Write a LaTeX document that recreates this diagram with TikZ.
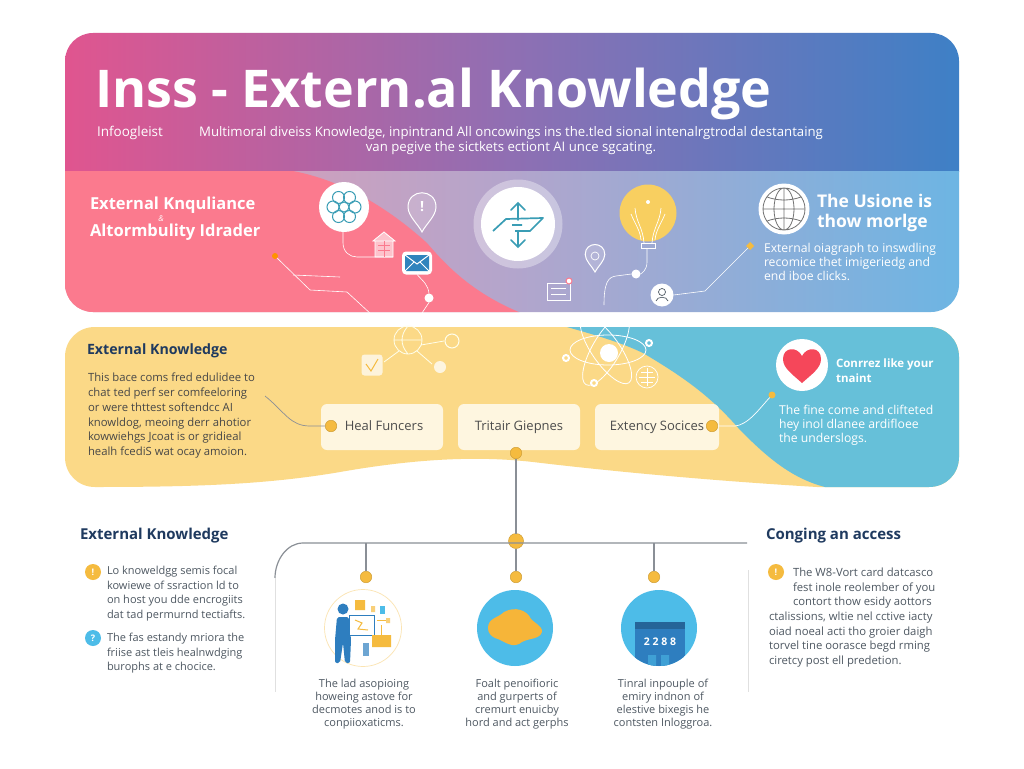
\documentclass[tikz,border=0pt]{standalone}
\usepackage{fontspec}
\setmainfont{Open Sans}
\usetikzlibrary{calc,shapes.geometric}
\definecolor{hpink}{HTML}{E0558F}
\definecolor{hmid}{HTML}{8F6FB3}
\definecolor{hblue}{HTML}{3E80C6}
\definecolor{bandl}{HTML}{E99BAE}
\definecolor{bandm}{HTML}{B3A5CC}
\definecolor{bandr}{HTML}{6DB5E3}
\definecolor{blobpink}{HTML}{FB7A8E}
\definecolor{panelyel}{HTML}{FBD987}
\definecolor{panelblue}{HTML}{66C0D9}
\definecolor{boxcream}{HTML}{FEF6E0}
\definecolor{gold}{HTML}{F5BB3F}
\definecolor{bulbyel}{HTML}{F8CF60}
\definecolor{heartred}{HTML}{F5475A}
\definecolor{navy}{HTML}{1F3A5F}
\definecolor{teal}{HTML}{3A9DB5}
\definecolor{skyblue}{HTML}{4DBCE8}
\definecolor{deepblue}{HTML}{2E7EBF}
\definecolor{bodygrey}{HTML}{4E5862}
\definecolor{wiregrey}{HTML}{8A8F96}
\newcommand{\fsz}[2]{\fontsize{#1}{#2}\selectfont}
\tikzset{
  pinmark/.pic={
    \draw[white,line width=1pt,fill=white,fill opacity=.15] (0,20) .. controls (-4,12) and (-14,4) .. (-14,-5)
      .. controls (-14,-24) and (14,-24) .. (14,-5) .. controls (14,4) and (4,12) .. (0,20) -- cycle;
  }
}
\begin{document}
\begin{tikzpicture}[x=1pt,y=-1pt,
  every node/.style={inner sep=0pt,outer sep=0pt},
  whitetext/.style={text=white,align=left,anchor=west},
  bandtext/.style={whitetext,font=\fsz{12.2}{14}},
  darktext/.style={text=bodygrey,align=left,anchor=north west,font=\fsz{11}{14.7}},
  caption/.style={text=bodygrey,align=center,anchor=north,font=\fsz{11}{13}},
  heading/.style={text=navy,anchor=west,font=\fsz{15}{17}\bfseries},
  cardbox/.style={fill=boxcream,rounded corners=6,minimum width=122,minimum height=46,text=black!70,
    text height=10,text depth=3,font=\fsz{13}{15}},
  golddot/.style={circle,fill=gold,draw=gold!85!black,line width=.5pt,minimum size=11.5},
  whitedot/.style={circle,fill=white,minimum size=9},
  wire/.style={white,line width=.6pt},
  stem/.style={wiregrey,line width=1.2pt},
  bullet/.style={circle,minimum size=16,text=white,font=\fsz{9}{9}\bfseries}]
\useasboundingbox (0,0) rectangle (1024,768);
\fill[white] (0,0) rectangle (1024,768);

\begin{scope}
\clip[rounded corners=28] (65,33) rectangle (959,312);
\shade[left color=hpink,right color=hblue,middle color=hmid] (65,33) rectangle (959,171);
\shade[left color=bandl,right color=bandr,middle color=bandm] (65,171) rectangle (959,312);
\fill[blobpink] (60,171) -- (293,171) .. controls (340,180) and (385,205) .. (427,243)
  .. controls (450,270) and (480,300) .. (540,320) -- (60,320) -- cycle;
\end{scope}

\fill[panelyel] (95,327) -- (929,327) .. controls (946,327) and (959,340) .. (959,357) -- (959,457)
  .. controls (959,474) and (946,487) .. (929,487) -- (817,487) .. controls (700,480) and (600,470) .. (533,462)
  .. controls (480,456) and (420,458) .. (340,472) .. controls (270,484) and (200,487) .. (95,487)
  .. controls (78,487) and (65,474) .. (65,457) -- (65,357) .. controls (65,340) and (78,327) .. (95,327) -- cycle;
\fill[panelblue] (567,327) -- (929,327) .. controls (946,327) and (959,340) .. (959,357) -- (959,457)
  .. controls (959,474) and (946,487) .. (929,487) -- (825,487) .. controls (790,478) and (765,455) .. (740,430)
  .. controls (710,395) and (680,375) .. (643,353) .. controls (620,342) and (595,335) .. (567,327) -- cycle;

\node[whitetext,font=\fsz{52}{52}\bfseries] (title) at (95,94) {Inss - Extern.al Knowledge};
\node[whitetext,font=\fsz{13.5}{15}] (tag) at (97,133) {Infoogleist};
\node[text=white,align=center,font=\fsz{13.2}{15}] (subtitle) at (511,141)
  {Multimoral diveiss Knowledge, inpintrand All oncowings ins the.tled sional intenalrgtrodal destantaing\\
   van pegive the sictkets ectiont AI unce sgcating.};

\node[whitetext,font=\fsz{16.5}{27}\bfseries] (bandhead) at (90,219) {External Knquliance\\Altormbulity Idrader};
\node[text=white,font=\fsz{8}{8}\itshape] (amp) at (161,219) {\&};

\coordinate (wirestart) at (343,232);
\coordinate (buildfoot) at (393,257);
\node[circle,fill=white,minimum size=50] (flower) at (344,207) {};
\foreach \a in {0,60,...,300} \draw[teal,line width=1pt] (344,207) ++(\a:11) circle (6);
\draw[teal,line width=1pt] (344,207) circle (5);
\draw[wire] (wirestart) -- (343,243) .. controls (343,252) and (350,257) .. (357,257) -- (buildfoot);
\path (422,212) pic {pinmark};
\node[text=white,font=\fsz{14}{14}\bfseries] (pinbang) at (422,207) {!};
\draw[white,line width=.8pt,fill=white,fill opacity=.55] (375,257) rectangle (393,241) (373,241) -- (384,232) -- (395,241) -- cycle;
\draw[blobpink,line width=.8pt] (378,245) -- (390,245) (378,250) -- (390,250) (384,241) -- (384,257);
\node[fill=white,rounded corners=4,minimum width=30,minimum height=23] (envelope) at (417,263) {};
\fill[deepblue!80!teal,rounded corners=1] (405,255) rectangle (429,271);
\draw[white,line width=1pt] (405,255) -- (417,264) -- (429,255) (405,271) -- (414,262) (429,271) -- (420,262);
\node[whitedot] (plaindot) at (429,298) {};
\draw[wire] (envelope.south) .. controls (424,282) and (428,285) .. (plaindot.north);
\node[circle,fill=orange!85!yellow,minimum size=6] (orangetip) at (275,256) {};
\coordinate (pinkwire) at (310,290);
\coordinate (branchend) at (340,277);
\coordinate (netin) at (400,325);
\draw[wire] (orangetip) -- (pinkwire) -- (347,292) -- (372,315) -- (netin);
\draw[wire] (293,275) -- (branchend);
\draw[wire] (plaindot.south) -- (420,316) -- (412,325);

\node[circle,fill=white,fill opacity=.35,minimum size=89] (halo) at (518,224) {};
\node[circle,fill=white,minimum size=74] (hub) at (518,224) {};
\draw[teal,line width=1.7pt,line join=round] (493,231) -- (506,219) -- (543,218) -- (530,231) -- (515,231) (512,225) -- (522,225);
\draw[teal,line width=1.7pt,line cap=round] (518,220) -- (518,203) (511,210) -- (518,203) -- (525,210);
\draw[teal,line width=1.7pt,line cap=round] (518,231) -- (518,247) (511,240) -- (518,247) -- (525,240);

\node[circle,fill=bulbyel,minimum size=57] (bulb) at (648,213) {};
\draw[white,line width=.7pt] (635,208) .. controls (636,222) and (643,228) .. (644,243)
  (661,208) .. controls (660,222) and (653,228) .. (652,243)
  (631,214) .. controls (636,226) and (640,230) .. (641,240)
  (665,214) .. controls (660,226) and (656,230) .. (655,240);
\fill[white] (648,202) circle (2);
\draw[white,line width=.7pt] (641,243) rectangle (655,248);
\node[whitedot] (busdot) at (636,274) {};
\coordinate (bulbfoot) at (647,248);
\coordinate (atomin) at (604,305);
\draw[wire] (bulbfoot) -- (647,262) .. controls (647,270) and (642,273) .. (busdot.east);
\draw[wire] (busdot.west) -- (616,276) .. controls (608,277) and (604,283) .. (atomin);
\path (595,258) pic[scale=.7] {pinmark};
\draw[white,line width=.7pt] (595,256) circle (4);
\draw[white,line width=.9pt] (547,283) rectangle (570,300) (551,288) -- (566,288) (551,294) -- (566,294);
\node[circle,draw=blobpink,fill=white,line width=1pt,minimum size=6] (imgbadge) at (569,281) {};
\node[circle,fill=white,minimum size=23] (personchip) at (662,295) {};
\draw[bodygrey,line width=.7pt] (662,292) circle (3.5) (656,301) .. controls (657,296) and (667,296) .. (668,301);
\node[diamond,fill=gold,minimum size=8] (goldtip) at (750,246) {};
\draw[wire] (personchip.east) -- (705,291) -- (goldtip);

\node[circle,fill=white,minimum size=51] (globe) at (784,209) {};
\draw[black!55,line width=.8pt] (784,209) circle (21) (784,209) ellipse (10 and 21) (763,209) -- (805,209) (784,188) -- (784,230)
  (767,197) .. controls (778,201) and (790,201) .. (801,197) (767,221) .. controls (778,217) and (790,217) .. (801,221);
\node[whitetext,font=\fsz{17.5}{20.5}\bfseries\color{white!92!blue}] (globehead) at (817,213) {The Usione is\\thow morlge};
\node[bandtext] (globetext) at (764,262) {External oiagraph to inswdling\\recomice thet imigeriedg and\\end iboe clicks.};

\node[heading,font=\fsz{14.2}{16}\bfseries] (yelhead) at (87,351) {External Knowledge};
\node[darktext,font=\fsz{11.3}{14.8},text=black!72] (yelbody) at (88,373)
  {This bace coms fred edulidee to\\chat ted perf ser comfeeloring\\or were thttest softendcc AI\\knowldog, meoing derr ahotior\\kowwiehgs Jcoat is or gridieal\\healh fcediS wat ocay amoion.};

\node[cardbox] (healbox) at (382,427) {\hspace*{4pt}Heal Funcers};
\node[cardbox] (tritbox) at (519,427) {Tritair Giepnes};
\node[cardbox,minimum width=124] (extbox) at (657,427) {Extency Socices};
\node[golddot] (healdot) at (331,426) {};
\node[golddot] (tritdot) at (516,453) {};
\node[golddot] (extdot) at (712,426) {};
\coordinate (yelfree) at (265,396);
\draw[wiregrey,line width=.7pt] (yelfree) .. controls (285,412) and (290,426) .. (310,426) -- (healdot);

\draw[white!92!yellow,line width=.8pt] (408,340) circle (14) (408,326) .. controls (400,335) and (400,345) .. (408,354) (394,340) -- (422,340) (421,345) -- (444,341) (399,351) -- (384,362) (417,351) -- (432,364);
\draw[white!92!yellow,line width=1pt] (452,341) circle (7);
\node[circle,fill=white,opacity=.75,minimum size=12] (netdot) at (440,367) {};
\node[fill=white,opacity=.7,rounded corners=3,minimum size=21] (checkchip) at (372,365) {};
\draw[gold,line width=1pt] (366,364) -- (371,371) -- (378,359);

\draw[white,line width=.8pt] (608,350) ellipse (38 and 15);
\draw[white,line width=.8pt,rotate around={-55:(606,350)}] (606,350) ellipse (40 and 14);
\draw[white,line width=.8pt,rotate around={60:(606,350)}] (606,350) ellipse (40 and 14);
\node[circle,fill=white,minimum size=18] (atomcore) at (609,353) {};
\node[circle,draw=white,line width=2pt,minimum size=6,fill=panelyel] (atoma) at (566,358) {};
\node[circle,draw=white,line width=2pt,minimum size=6,fill=panelblue] (atomb) at (649,343) {};
\node[circle,draw=white,line width=2pt,minimum size=6,fill=panelyel] (atomc) at (594,383) {};
\node[circle,draw=white,line width=.7pt,minimum size=22] (atomd) at (647,377) {};
\draw[white,line width=.6pt] (641,372) -- (653,372) (639,377) -- (655,377) (641,382) -- (653,382) (647,368) -- (647,386);

\node[circle,fill=white,minimum size=52] (heartchip) at (802,365) {};
\fill[heartred] (802,383) .. controls (792,374) and (783,368) .. (783,359)
  .. controls (783,347) and (797,346) .. (802,356) .. controls (807,346) and (821,347) .. (821,359)
  .. controls (821,368) and (812,374) .. (802,383) -- cycle;
\node[whitetext,font=\fsz{11.5}{15}\bfseries] (hearthead) at (836,371) {Conrrez like your\\tnaint};
\node[bandtext] (hearttext) at (779,425) {The fine come and clifteted\\hey inol dlanee ardifloee\\the underslogs.};
\node[circle,fill=gold,minimum size=7] (skydot) at (772,395) {};
\draw[white,line width=.7pt] (extdot.east) -- (735,426) .. controls (748,425) and (760,408) .. (skydot);

\node[golddot,minimum size=15] (hubdot) at (516,541) {};
\node[golddot] (leftdot) at (366,577) {};
\node[golddot] (middot) at (516,577) {};
\node[golddot] (rightdot) at (654,577) {};
\coordinate (railright) at (747,543);
\coordinate (railbend) at (275,578);
\draw[stem] (tritdot) -- (hubdot);
\draw[stem] (hubdot) -- (middot);
\draw[stem] (railright) -- (303,543) .. controls (287,543) and (275,560) .. (railbend);
\draw[stem] (366,543) -- (leftdot);
\draw[stem] (654,543) -- (rightdot);
\draw[black!12,line width=.7pt] (railbend) -- (275,692);
\draw[black!12,line width=.7pt] (748,570) -- (748,692);

\node[heading] (lowlhead) at (80,536) {External Knowledge};
\node[bullet,fill=gold] (tipa) at (93,572) {!};
\node[darktext] (lowla) at (107,566) {Lo knoweldgg semis focal\\kowiewe of ssraction ld to\\on host you dde encrogiits\\dat tad permurnd tectiafts.};
\node[bullet,fill=skyblue] (tipb) at (93,638) {?};
\node[darktext] (lowlb) at (107,633) {The fas estandy mriora the\\friise ast tleis healnwdging\\burophs at e chocice.};

\node[heading] (lowrhead) at (766,536) {Conging an access};
\node[bullet,fill=gold] (tipc) at (776,572) {!};
\node[darktext,font=\fsz{11.3}{14.7}] (lowra) at (793,568) {The W8-Vort card datcasco\\fest inole reolember of you\\contort thow esidy aottors};
\node[darktext,font=\fsz{11.3}{14.7}] (lowrb) at (769,612) {ctalissions, wltie nel cctive iacty\\oiad noeal acti tho groier daigh\\torvel tine oorasce begd rming\\ciretcy post ell predetion.};

\node[circle,draw=gold!40,line width=.7pt,minimum size=77] (personring) at (363,628) {};
\fill[deepblue] (343,609) circle (5.5);
\fill[deepblue,rounded corners=2] (337,617) -- (349,617) -- (351,640) -- (350,663) -- (345,663) -- (343,643) -- (340,663) -- (335,663) -- (335,640) -- cycle;
\node[draw=deepblue,fill=white,line width=1pt,minimum width=25,minimum height=20] (screen) at (362,625) {};
\draw[gold,line width=1pt] (355,620) -- (362,623) -- (358,629) -- (368,630);
\fill[gold] (355,600) rectangle (365,610) (372,635) rectangle (391,647);
\fill[gold!70] (371,606) rectangle (375,612) (386,618) rectangle (390,623);
\fill[skyblue] (380,606) rectangle (385,614);
\fill[deepblue!70] (363,643) rectangle (369,656);
\draw[gold,line width=.7pt] (377,620) -- (386,620) (381,625) -- (381,635);

\node[circle,fill=skyblue,minimum size=76] (cloudchip) at (515,628) {};
\fill[gold!90!orange] (488,628) .. controls (488,618) and (498,618) .. (504,612) .. controls (515,606) and (527,610) .. (531,619)
  .. controls (536,624) and (545,628) .. (541,634) .. controls (537,640) and (526,638) .. (519,644)
  .. controls (510,648) and (503,640) .. (495,638) .. controls (491,636) and (488,633) .. (488,628) -- cycle;

\node[circle,fill=skyblue,minimum size=76] (calchip) at (659,628) {};
\begin{scope}
\clip (659,628) circle (38);
\fill[deepblue] (635,622) rectangle (685,670);
\fill[deepblue!80!black] (635,622) rectangle (685,629);
\fill[skyblue!55!deepblue] (648,655) rectangle (656,670) (661,655) rectangle (669,670);
\end{scope}
\node[text=white,font=\fsz{10.5}{11}\bfseries] (calnum) at (660,642) {2\ 2\ 8\ 8};

\node[caption] (capa) at (364,679) {The lad asopioing\\howeing astove for\\decmotes anod is to\\conpiioxaticms.};
\node[caption] (capb) at (517,679) {Foalt penoifioric\\and gurperts of\\cremurt enuicby\\hord and act gerphs};
\node[caption] (capc) at (663,679) {Tinral inpouple of\\emiry indnon of\\elestive bixegis he\\contsten Inloggroa.};
\end{tikzpicture}
\end{document}
